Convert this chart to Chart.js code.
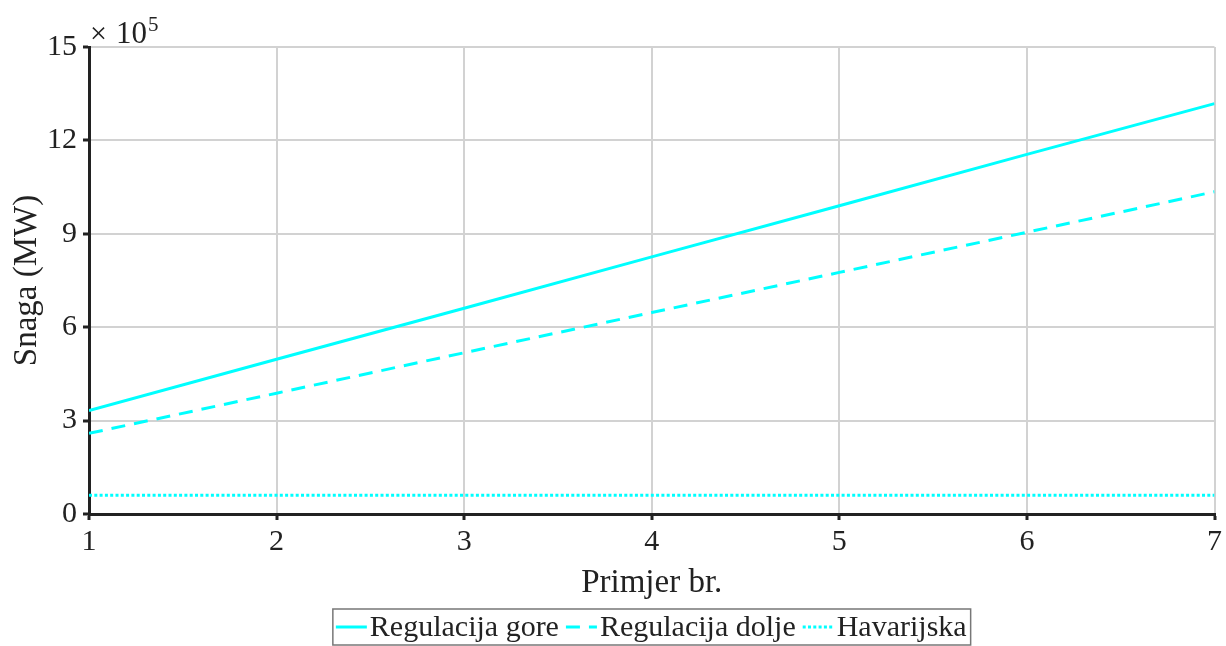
<!DOCTYPE html>
<html>
<head>
<meta charset="utf-8">
<title>Snaga</title>
<script src="https://cdn.jsdelivr.net/npm/chart.js@4.4.1/dist/chart.umd.min.js"></script>
<style>
    html, body { margin: 0; padding: 0; background: #fff; }
    #wrap { width: 1226px; height: 646px; }
</style>
</head>
<body>
<div id="wrap"><canvas id="snagaChart" width="1226" height="646"></canvas></div>
<script>
// Podaci (MW)
const primjeri = [1, 2, 3, 4, 5, 6, 7];
const regulacijaGore = [332000, 497000, 661000, 826000, 990000, 1155000, 1318000];
const regulacijaDolje = [259000, 388000, 518000, 647000, 776000, 905000, 1035000];
const havarijska = [60000, 60000, 60000, 60000, 60000, 60000, 60000];
const yTicks = [0, 3, 6, 9, 12, 15];   // x 10^5
const yExponent = 5;

const FONT = "'Liberation Serif', 'Times New Roman', serif";
const CYAN = '#00ffff';

function toPoints(values) {
    return primjeri.map((x, i) => ({ x: x, y: values[i] }));
}

// Legenda s okvirom ispod grafa
const boxLegend = {
    id: 'boxLegend',
    afterDraw(chart) {
        const ctx = chart.ctx;
        const area = chart.chartArea;
        ctx.save();
        ctx.font = '30px ' + FONT;
        const sample = 31, gap = 3, itemGap = 7, padL = 3, padR = 4;
        const items = chart.data.datasets.map(ds => ({ ds: ds, w: ctx.measureText(ds.label).width }));
        let total = padL + padR + (items.length - 1) * itemGap;
        items.forEach(it => { total += sample + gap + it.w; });
        let x = (area.left + area.right) / 2 - total / 2;
        const top = 609, h = 36, cy = top + h / 2;

        ctx.strokeStyle = '#777';
        ctx.lineWidth = 1.5;
        ctx.strokeRect(x, top, total, h);

        x += padL;
        items.forEach(it => {
            ctx.beginPath();
            ctx.strokeStyle = it.ds.borderColor;
            ctx.lineWidth = it.ds.borderWidth;
            ctx.setLineDash(it.ds.borderDash || []);
            ctx.moveTo(x, cy);
            ctx.lineTo(x + sample, cy);
            ctx.stroke();
            ctx.setLineDash([]);
            x += sample + gap;
            ctx.fillStyle = '#222';
            ctx.textBaseline = 'middle';
            ctx.textAlign = 'left';
            ctx.fillText(it.ds.label, x, cy + 1);
            x += it.w + itemGap;
        });
        ctx.restore();
    }
};

// Oznaka eksponenta iznad osi y
const exponentLabel = {
    id: 'exponentLabel',
    afterDraw(chart) {
        const ctx = chart.ctx;
        const left = chart.chartArea.left;
        ctx.save();
        ctx.fillStyle = '#222';
        ctx.textBaseline = 'alphabetic';
        ctx.textAlign = 'left';
        ctx.font = '30px ' + FONT;
        ctx.fillText('\u00d7', left + 1, 43);
        ctx.font = '31px ' + FONT;
        ctx.fillText('10', left + 27, 43);
        const w = ctx.measureText('10').width;
        ctx.font = '21px ' + FONT;
        ctx.fillText(String(yExponent), left + 28 + w, 31);
        ctx.restore();
    }
};

document.addEventListener('DOMContentLoaded', function() {
    const ctx = document.getElementById('snagaChart').getContext('2d');
    new Chart(ctx, {
        type: 'line',
        data: {
            datasets: [{
                label: 'Regulacija gore',
                data: toPoints(regulacijaGore),
                borderColor: CYAN,
                borderWidth: 3,
                borderDash: [],
                pointRadius: 0,
                tension: 0
            }, {
                label: 'Regulacija dolje',
                data: toPoints(regulacijaDolje),
                borderColor: CYAN,
                borderWidth: 3,
                borderDash: [14, 9],
                pointRadius: 0,
                tension: 0
            }, {
                label: 'Havarijska',
                data: toPoints(havarijska),
                borderColor: CYAN,
                borderWidth: 3,
                borderDash: [3, 2.3],
                pointRadius: 0,
                tension: 0
            }]
        },
        options: {
            responsive: false,
            animation: false,
            devicePixelRatio: 1,
            layout: { padding: { top: 47, right: 11, bottom: 40, left: 0 } },
            scales: {
                x: {
                    type: 'linear',
                    min: 1,
                    max: 7,
                    afterFit: function(scale) { scale.height = 92; },
                    afterBuildTicks: function(scale) {
                        scale.ticks = primjeri.map(v => ({ value: v }));
                    },
                    ticks: {
                        color: '#222',
                        font: { family: FONT, size: 30 },
                        padding: 4,
                        maxRotation: 0,
                        callback: v => String(v)
                    },
                    grid: {
                        color: '#d2d2d2',
                        lineWidth: 2,
                        tickColor: '#222',
                        tickLength: 6,
                        tickWidth: 3
                    },
                    border: { color: '#222', width: 3 },
                    title: {
                        display: true,
                        text: 'Primjer br.',
                        color: '#222',
                        font: { family: FONT, size: 33 },
                        padding: { top: 0, bottom: 3 }
                    }
                },
                y: {
                    min: 0,
                    max: 1500000,
                    afterFit: function(scale) { scale.width = 89; },
                    afterBuildTicks: function(scale) {
                        scale.ticks = yTicks.map(v => ({ value: v * Math.pow(10, yExponent) }));
                    },
                    ticks: {
                        color: '#222',
                        font: { family: FONT, size: 30 },
                        padding: 6,
                        callback: v => String(v / Math.pow(10, yExponent))
                    },
                    grid: {
                        color: '#d2d2d2',
                        lineWidth: 2,
                        tickColor: '#222',
                        tickLength: 6,
                        tickWidth: 3
                    },
                    border: { color: '#222', width: 3 },
                    title: {
                        display: true,
                        text: 'Snaga (MW)',
                        color: '#222',
                        font: { family: FONT, size: 33 },
                        padding: { top: 8, bottom: 0 }
                    }
                }
            },
            plugins: {
                legend: { display: false },
                tooltip: { enabled: false }
            }
        },
        plugins: [boxLegend, exponentLabel]
    });
});
</script>
</body>
</html>
